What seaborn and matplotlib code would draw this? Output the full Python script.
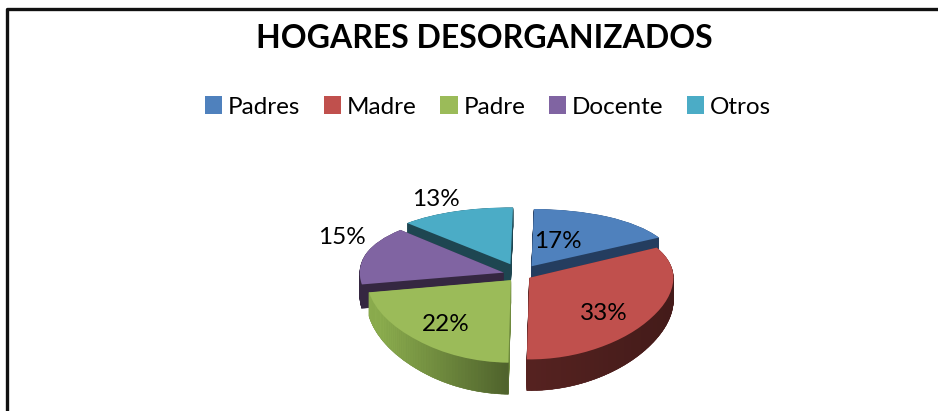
import numpy as np
import seaborn as sns
import matplotlib.pyplot as plt
from matplotlib.patches import Wedge, Polygon
from matplotlib.colors import to_rgb

categorias = ['Padres', 'Madre', 'Padre', 'Docente', 'Otros']
valores = [17, 33, 22, 15, 13]
titulo = 'HOGARES DESORGANIZADOS'

colores = ['#4f81bd', '#c0504d', '#9bbb59', '#8064a2', '#4bacc6']
lados = ['#243d5f', '#5a2422', '#6f8a3e', '#352741', '#1e4651']
orden = [1, 3, 4, 2, 0]  # quien tapa a quien: Padres, Madre, Padre, Docente, Otros
profundidades = [42, 44, 44, 46, 52]

sns.set_theme(style='white')
plt.rcParams['font.family'] = ['Lato', 'DejaVu Sans']

fig = plt.figure(figsize=(9.38, 4.11), dpi=100, facecolor='white')
ax = fig.add_axes([0, 0, 1, 1])

# perspectiva: el fondo del pastel se ve mas aplastado que el frente
a, b, cy = 0.475, 0.00105, 411 - 275
def adelante(v):
    v = np.asarray(v, dtype=float)
    return cy + a * v / (1 + b * v)
def atras(s):
    h = np.asarray(s, dtype=float) - cy
    return h / (a - b * h)

radio = 144
# en pie() explode va en unidades de datos, no en fraccion del radio
wedges, _ = ax.pie(valores, colors=sns.color_palette(colores), startangle=89, counterclock=False,
                   explode=[22, 11, 14, 17, 25], radius=radio, center=(520, 0), frame=False)

ax.set_aspect('auto')
ax.set_xlim(0, 938)
ax.set_yscale('function', functions=(adelante, atras))
ax.set_ylim(atras(0.0), atras(411.0))
ax.set_axis_off()

for w, col_lado, z, prof in zip(wedges, lados, orden, profundidades):
    w.set_zorder(z + 0.5)
    w.set_linewidth(0)
    # caras laterales
    for d in np.arange(1, prof + 1):
        ax.add_patch(Wedge((w.center[0], w.center[1] - d), w.r, w.theta1, w.theta2,
                           facecolor=col_lado, edgecolor=col_lado, lw=0.3, zorder=z + 0.1))
    # degradado sobre el borde exterior
    angs = np.linspace(w.theta1, w.theta2, 60)
    for t0, t1 in zip(angs[:-1], angs[1:]):
        tm = np.radians((t0 + t1) / 2) % (2 * np.pi)
        if np.sin(tm) >= 0:
            continue
        frac = np.clip((np.cos(tm) + 1) / 2, 0, 1)
        base = np.array(to_rgb(col_lado))
        if z == 4:
            col = base * (1.25 - 0.55 * np.clip((np.cos(tm) + 0.9) / 0.9, 0, 1))
        elif z == 3:
            col = base * (1.15 - 0.4 * frac)
        else:
            col = base
        col = np.clip(col, 0, 1)
        x0, y0 = w.center[0] + w.r * np.cos(np.radians(t0)), w.center[1] + w.r * np.sin(np.radians(t0))
        x1, y1 = w.center[0] + w.r * np.cos(np.radians(t1)), w.center[1] + w.r * np.sin(np.radians(t1))
        ax.add_patch(Polygon([(x0, y0), (x1, y1), (x1, y1 - prof), (x0, y0 - prof)],
                             facecolor=col, edgecolor=col, lw=0.4, zorder=z + 0.2))

# etiquetas de porcentaje
pos_etiquetas = [(558, 242), (604, 313), (446, 324), (342, 237), (436, 199)]
for v, (px, py) in zip(valores, pos_etiquetas):
    fig.text(px / 938, 1 - py / 411, f'{v}%', fontsize=17.5, color='black', ha='center', va='center', zorder=20)

fig.text(484 / 938, 1 - 39 / 411, titulo, fontsize=23, fontweight='bold', color='black', ha='center', va='center')

leg = fig.legend(wedges, categorias, loc='center', bbox_to_anchor=(488 / 938, 1 - 107 / 411), ncol=5, frameon=False,
                 fontsize=17.5, labelcolor='black', handlelength=0.72, handleheight=0.72, handletextpad=0.25, columnspacing=0.95)

# marco del grafico
fig.add_artist(plt.Line2D([6.5 / 938, 6.5 / 938, 1], [0, 1 - 9.5 / 411, 1 - 9.5 / 411], color='#111111', lw=2.4))

fig.savefig('out.png', dpi=100)
